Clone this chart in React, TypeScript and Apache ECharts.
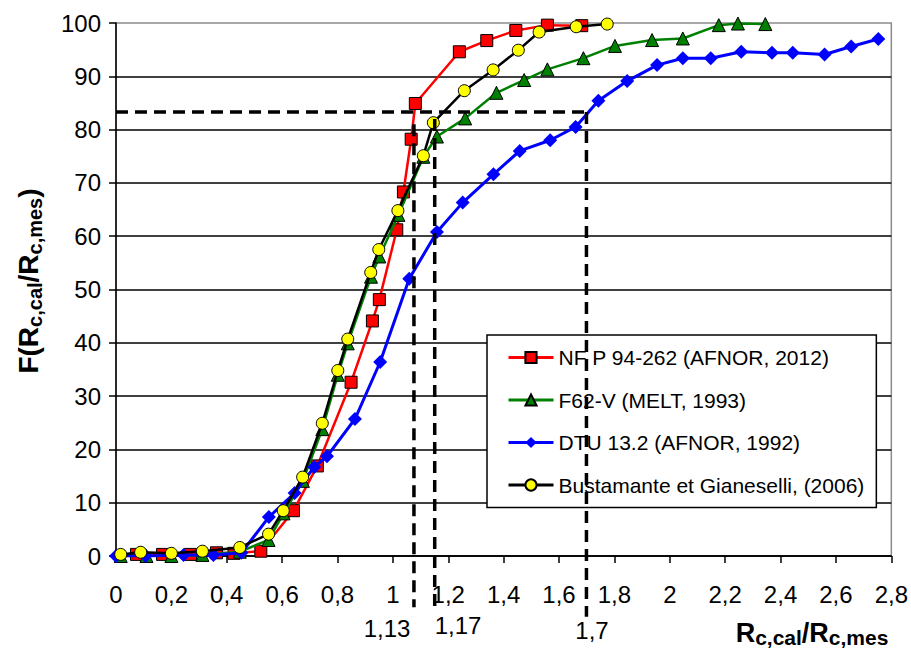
import React, { useEffect, useRef } from "react";
import * as echarts from "echarts";

// ---- data ----
const nfpData: number[][] = [
  [0.074, 0.3], [0.168, 0.3], [0.269, 0.3], [0.363, 0.6], [0.426, 0.5], [0.523, 0.9],
  [0.641, 8.5], [0.727, 16.9], [0.849, 32.6], [0.926, 44.1], [0.951, 48.1], [1.014, 61.2],
  [1.038, 68.3], [1.066, 78.2], [1.081, 84.9], [1.240, 94.6], [1.339, 96.7], [1.444, 98.6],
  [1.558, 99.6], [1.682, 99.5],
];
const f62Data: number[][] = [
  [0.017, 0], [0.11, 0], [0.2, 0], [0.312, 0.2], [0.447, 0.8], [0.551, 3.0], [0.605, 8.0],
  [0.675, 14.1], [0.745, 23.8], [0.801, 34.0], [0.837, 39.9], [0.921, 52.4], [0.951, 56.2],
  [1.02, 64.0], [1.11, 74.9], [1.159, 78.7], [1.261, 82.1], [1.374, 86.9], [1.474, 89.3],
  [1.558, 91.3], [1.688, 93.4], [1.802, 95.7], [1.936, 96.8], [2.047, 97.1], [2.177, 99.6],
  [2.246, 99.9], [2.345, 99.8],
];
const dtuData: number[][] = [
  [0, 0], [0.107, 0], [0.244, 0.2], [0.352, 0.2], [0.453, 0.6], [0.552, 7.3], [0.645, 11.8],
  [0.716, 16.7], [0.762, 18.7], [0.863, 25.7], [0.954, 36.4], [1.059, 52.0], [1.159, 60.8],
  [1.252, 66.3], [1.363, 71.6], [1.458, 76.0], [1.568, 78.0], [1.660, 80.5], [1.742, 85.4],
  [1.846, 89.1], [1.954, 92.1], [2.047, 93.4], [2.148, 93.4], [2.258, 94.6], [2.369, 94.4],
  [2.444, 94.4], [2.559, 94.1], [2.655, 95.6], [2.753, 97.0],
];
const bgData: number[][] = [
  [0.017, 0.3], [0.089, 0.7], [0.2, 0.5], [0.312, 0.9], [0.447, 1.6], [0.551, 4.1],
  [0.604, 8.5], [0.674, 14.8], [0.745, 24.9], [0.801, 34.8], [0.837, 40.7], [0.920, 53.2],
  [0.949, 57.5], [1.018, 64.8], [1.11, 75.1], [1.146, 81.3], [1.258, 87.3], [1.362, 91.2],
  [1.453, 94.9], [1.528, 98.3], [1.662, 99.3], [1.774, 99.8],
];

const seriesNames = [
  "NF P 94-262 (AFNOR, 2012)",
  "F62-V (MELT, 1993)",
  "DTU 13.2 (AFNOR, 1992)",
  "Bustamante et Gianeselli, (2006)",
];

// reference dashed lines (x positions as drawn, level of the horizontal line)
const refLevel = 83.3;
const refX = [1.076, 1.151, 1.699];
const refTopY = [81, 82, 83.3];
const refBottomY = [-9.6, -9.6, -11.4];
const refLabels = ["1,13", "1,17", "1,7"];

const FONT = "'Liberation Sans', Arial, sans-serif";

export default function App() {
  const ref = useRef<HTMLDivElement>(null);

  useEffect(() => {
    if (!ref.current) return;
    const chart = echarts.init(ref.current, null, { renderer: "svg" });

    const dashStyle = { color: "#000", width: 3.5, type: [12, 7] as any };
    const dashSeries: any[] = [
      {
        type: "line",
        data: [[0, refLevel], [refX[2], refLevel]],
        symbol: "none",
        clip: false,
        silent: true,
        z: 10,
        lineStyle: dashStyle,
      },
    ];
    refX.forEach((x, i) => {
      dashSeries.push({
        type: "line",
        data: [[x, refTopY[i]], [x, refBottomY[i]]],
        symbol: "none",
        clip: false,
        silent: true,
        z: 10,
        lineStyle: dashStyle,
      });
    });

    const grid = { left: 116, top: 23, width: 776, height: 533 };

    chart.setOption({
      animation: false,
      backgroundColor: "#fff",
      textStyle: { fontFamily: FONT },
      grid: { ...grid, show: true, borderColor: "#8c8c8c", borderWidth: 1.5, backgroundColor: "transparent" },
      xAxis: {
        type: "value",
        min: 0,
        max: 2.8,
        interval: 0.2,
        axisLine: { show: true, onZero: false, lineStyle: { color: "#000", width: 1.5 } },
        axisTick: { show: true, length: 7, lineStyle: { color: "#000", width: 1.5 } },
        splitLine: { show: false },
        axisLabel: {
          margin: 26,
          fontSize: 24,
          color: "#000",
          fontFamily: FONT,
          formatter: (v: number) => String(Math.round(v * 10) / 10).replace(".", ","),
        },
      },
      yAxis: {
        type: "value",
        min: 0,
        max: 100,
        interval: 10,
        axisLine: { show: true, lineStyle: { color: "#000", width: 1.5 } },
        axisTick: { show: true, length: 7, lineStyle: { color: "#000", width: 1.5 } },
        splitLine: { show: true, showMaxLine: false, lineStyle: { color: "#000", width: 1.5 } },
        axisLabel: { margin: 15, fontSize: 24, color: "#000", fontFamily: FONT },
      },
      legend: {
        data: seriesNames,
        orient: "vertical",
        left: 487,
        top: 335,
        padding: [12, 12, 12, 20],
        itemWidth: 45,
        itemHeight: 14,
        itemGap: 21.5,
        backgroundColor: "#fff",
        borderColor: "#000",
        borderWidth: 1.5,
        borderRadius: 0,
        lineStyle: { width: 3 },
        textStyle: { fontSize: 21, color: "#000", fontFamily: FONT },
        z: 4,
      },
      graphic: [
        {
          type: "text",
          x: 28,
          y: 281,
          rotation: Math.PI / 2,
          style: {
            text: "{m|F(R}{s|c,cal}{m|/R}{s|c,mes}{m|)}",
            align: "center",
            verticalAlign: "middle",
            rich: {
              m: { fontSize: 28, fontWeight: "bold", fontFamily: FONT, fill: "#000", lineHeight: 34, verticalAlign: "middle" },
              s: { fontSize: 20, fontWeight: "bold", fontFamily: FONT, fill: "#000", lineHeight: 34, verticalAlign: "bottom", padding: [14, 0, 0, 0] },
            },
          },
        },
        {
          type: "text",
          x: 812,
          y: 633,
          style: {
            text: "{m|R}{s|c,cal}{m|/R}{s|c,mes}",
            align: "center",
            verticalAlign: "middle",
            rich: {
              m: { fontSize: 27, fontWeight: "bold", fontFamily: FONT, fill: "#000", lineHeight: 30, verticalAlign: "middle" },
              s: { fontSize: 21, fontWeight: "bold", fontFamily: FONT, fill: "#000", lineHeight: 30, verticalAlign: "bottom", padding: [12, 0, 0, 0] },
            },
          },
        },
        ...refLabels.map((t, i) => ({
          type: "text",
          x: [387, 458, 592][i],
          y: [628, 625, 630][i],
          style: { text: t, align: "center", verticalAlign: "middle", fontSize: 24, fontFamily: FONT, fill: "#000" },
        })),
      ],
      series: [
        {
          name: seriesNames[0],
          type: "line",
          data: nfpData,
          symbol: "rect",
          symbolSize: 12,
          lineStyle: { color: "#ff0000", width: 2.5 },
          itemStyle: { color: "#ff0000", borderColor: "#000", borderWidth: 1 },
          z: 2,
        },
        {
          name: seriesNames[1],
          type: "line",
          data: f62Data,
          symbol: "triangle",
          symbolSize: 13,
          lineStyle: { color: "#008000", width: 2.5 },
          itemStyle: { color: "#008000", borderColor: "#000", borderWidth: 1 },
          z: 3,
        },
        {
          name: seriesNames[2],
          type: "line",
          data: dtuData,
          symbol: "diamond",
          symbolSize: 14,
          lineStyle: { color: "#0000ff", width: 3 },
          itemStyle: { color: "#0000ff", borderColor: "#0000ff", borderWidth: 0 },
          z: 4,
        },
        {
          name: seriesNames[3],
          type: "line",
          data: bgData,
          symbol: "circle",
          symbolSize: 12,
          lineStyle: { color: "#000", width: 2.5 },
          itemStyle: { color: "#ffff00", borderColor: "#000", borderWidth: 1 },
          z: 5,
        },
        ...dashSeries,
      ],
    });

    return () => chart.dispose();
  }, []);

  return (
    <div
      ref={ref}
      style={{ position: "fixed", left: 0, top: 0, width: 911, height: 655, background: "#fff" }}
    />
  );
}
